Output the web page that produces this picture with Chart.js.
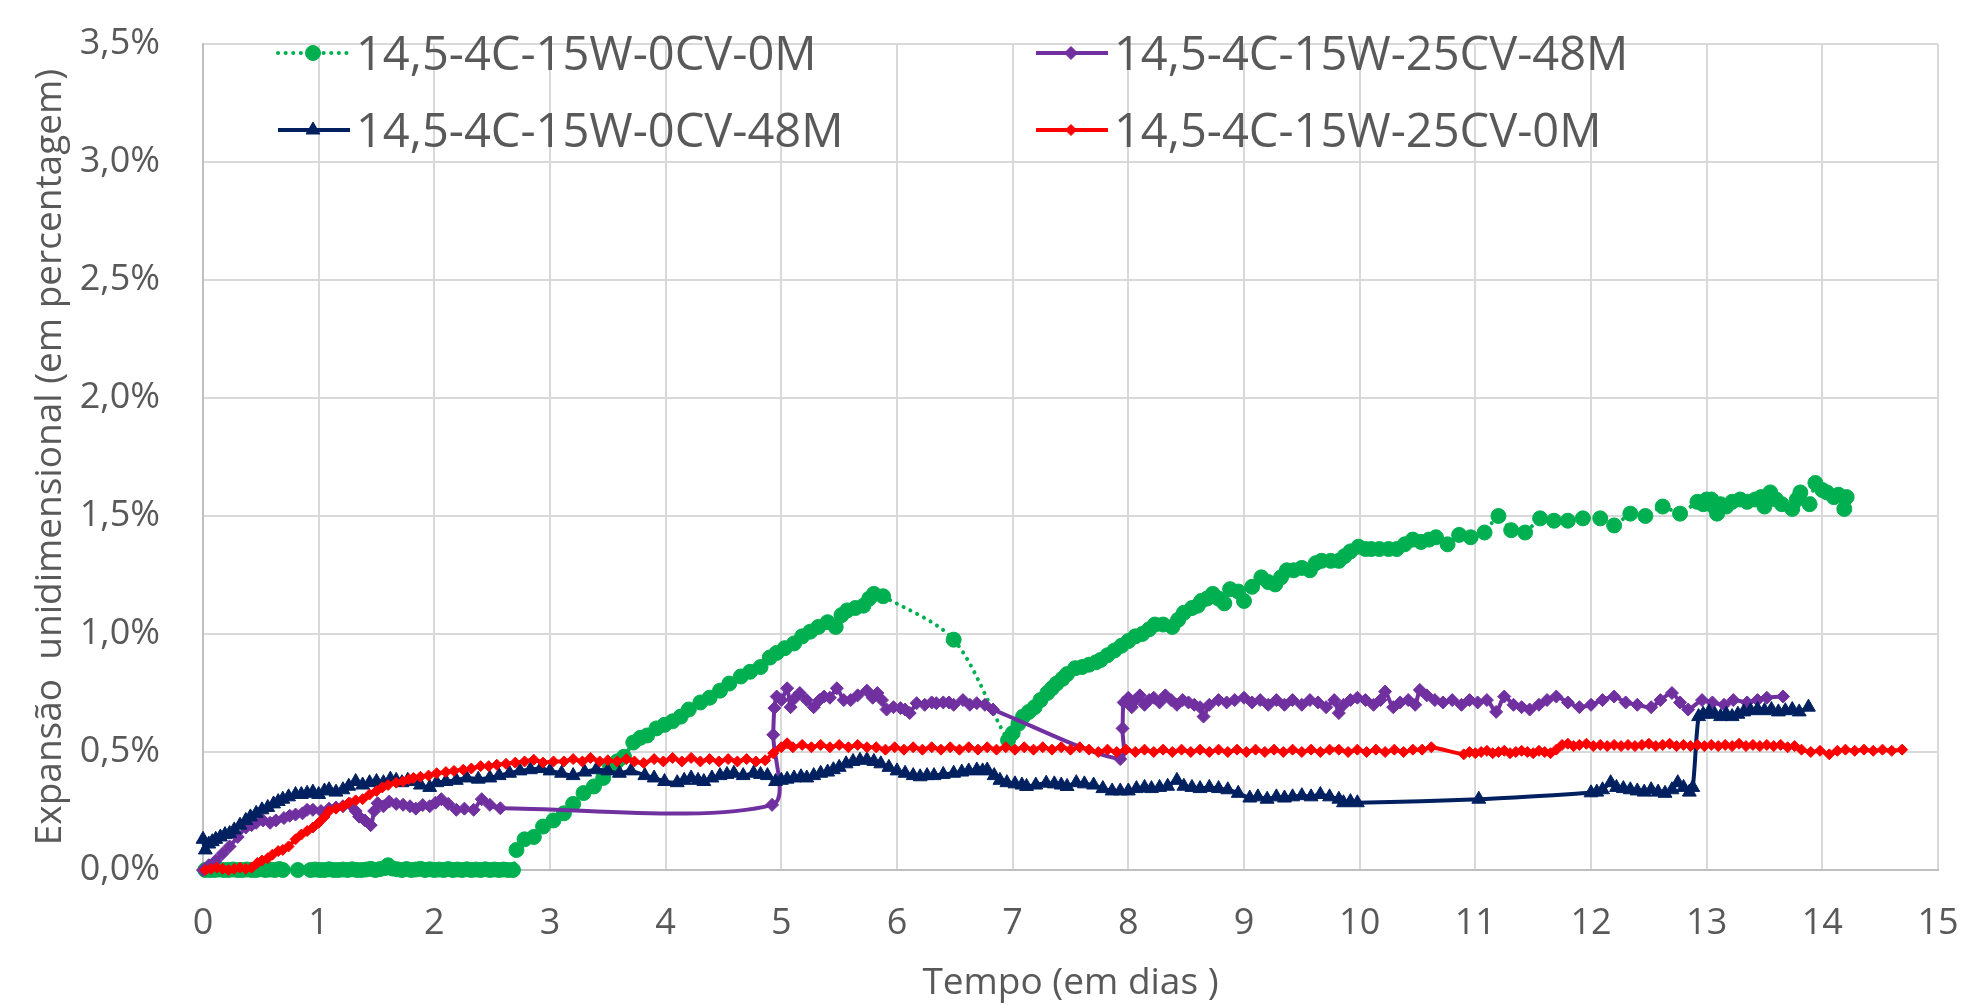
<!DOCTYPE html>
<html>
<head>
<meta charset="utf-8">
<title>Expansão unidimensional</title>
<script src="https://cdn.jsdelivr.net/npm/chart.js@4.4.1/dist/chart.umd.min.js"></script>
<style>
  html, body { margin: 0; padding: 0; background: #fff; }
  #wrap { width: 1963px; height: 1006px; }
</style>
</head>
<body>
<div id="wrap"><canvas id="chart"></canvas></div>
<script>
// series names, as in the legend
const seriesNames = ['14,5-4C-15W-0CV-0M', '14,5-4C-15W-25CV-48M', '14,5-4C-15W-0CV-48M', '14,5-4C-15W-25CV-0M'];

// [tempo em dias, expansão %]
const s0CV0M = [
  [0.02,0],[0.06,0],[0.1,0],[0.14,0.002],[0.18,0],[0.22,0],[0.26,0.002],[0.3,0],[0.34,0],[0.38,0.002],
  [0.42,0],[0.46,0],[0.5,0.003],[0.54,0],[0.58,0.002],[0.62,0],[0.66,0.004],[0.69,0],[0.82,0],
  [0.93,0],[0.97,0.002],[1.01,0],[1.05,0],[1.09,0.003],[1.13,0],[1.17,0],[1.21,0.002],[1.25,0],[1.29,0.003],
  [1.33,0],[1.37,0],[1.41,0.002],[1.45,0.005],[1.49,0],[1.53,0.004],[1.57,0.008],[1.6,0.02],[1.64,0.006],
  [1.68,0.003],[1.72,0],[1.76,0.004],[1.8,0],[1.84,0.002],[1.88,0.005],[1.92,0],[1.96,0.003],[2.0,0],
  [2.04,0.002],[2.08,0],[2.12,0.004],[2.16,0],[2.2,0.002],[2.24,0],[2.28,0.003],[2.32,0],[2.36,0.002],
  [2.4,0],[2.44,0.003],[2.48,0],[2.52,0.002],[2.56,0],[2.6,0.002],[2.64,0],[2.68,0],
  [2.71,0.085],[2.78,0.13],[2.86,0.14],[2.94,0.184],[3.03,0.21],[3.12,0.24],[3.2,0.28],[3.29,0.326],
  [3.38,0.354],[3.46,0.39],[3.52,0.44],[3.58,0.46],[3.64,0.48],[3.72,0.54],[3.78,0.56],[3.84,0.57],
  [3.92,0.6],[3.99,0.615],[4.06,0.63],[4.13,0.65],[4.2,0.68],[4.3,0.71],[4.38,0.73],[4.47,0.76],
  [4.55,0.79],[4.65,0.82],[4.73,0.84],[4.82,0.86],[4.9,0.9],[4.96,0.92],[5.03,0.94],[5.11,0.96],
  [5.18,0.99],[5.25,1.01],[5.32,1.03],[5.4,1.05],[5.47,1.03],[5.52,1.08],[5.57,1.1],[5.64,1.11],
  [5.71,1.12],[5.76,1.15],[5.8,1.17],[5.88,1.16],[6.49,0.976],[6.96,0.55],
  [7.0,0.58],[7.05,0.62],[7.09,0.65],[7.14,0.67],[7.19,0.69],[7.24,0.72],[7.3,0.75],[7.34,0.77],
  [7.38,0.79],[7.43,0.81],[7.47,0.83],[7.54,0.855],[7.6,0.86],[7.66,0.87],[7.72,0.88],[7.76,0.89],
  [7.82,0.91],[7.88,0.93],[7.94,0.95],[8.0,0.97],[8.06,0.99],[8.12,1.0],[8.18,1.02],[8.23,1.04],
  [8.3,1.04],[8.38,1.03],[8.43,1.06],[8.48,1.09],[8.55,1.11],[8.6,1.12],[8.63,1.14],[8.68,1.15],
  [8.73,1.17],[8.78,1.15],[8.83,1.13],[8.88,1.19],[8.95,1.18],[9.0,1.14],[9.07,1.2],[9.15,1.24],
  [9.21,1.22],[9.27,1.21],[9.32,1.24],[9.37,1.27],[9.43,1.27],[9.5,1.28],[9.57,1.27],[9.62,1.3],
  [9.67,1.31],[9.75,1.31],[9.82,1.31],[9.87,1.33],[9.92,1.35],[9.99,1.37],[10.05,1.36],[10.1,1.36],
  [10.17,1.36],[10.25,1.36],[10.32,1.36],[10.39,1.38],[10.46,1.4],[10.53,1.39],[10.6,1.4],[10.66,1.41],
  [10.76,1.38],[10.86,1.42],[10.96,1.41],[11.08,1.43],[11.2,1.5],[11.31,1.44],[11.43,1.43],[11.56,1.49],
  [11.68,1.48],[11.8,1.48],[11.93,1.49],[12.08,1.49],[12.2,1.46],[12.34,1.51],[12.47,1.5],[12.62,1.54],
  [12.77,1.51],[12.92,1.56],[12.97,1.55],[13.0,1.57],[13.04,1.57],[13.06,1.54],[13.09,1.51],[13.12,1.55],
  [13.17,1.54],[13.22,1.56],[13.29,1.57],[13.35,1.56],[13.42,1.57],[13.47,1.58],[13.5,1.54],[13.55,1.6],
  [13.6,1.57],[13.65,1.55],[13.74,1.53],[13.78,1.57],[13.81,1.6],[13.89,1.55],[13.94,1.64],[14.0,1.61],
  [14.04,1.6],[14.1,1.58],[14.14,1.59],[14.19,1.53],[14.21,1.58]
];

const s25CV48M = [
  [0.0,0],[0.05,0.02],[0.11,0.04],[0.17,0.07],[0.23,0.1],[0.3,0.14],[0.37,0.18],[0.42,0.19],[0.46,0.2],
  [0.52,0.21],[0.58,0.2],[0.63,0.21],[0.7,0.22],[0.75,0.23],[0.8,0.235],[0.86,0.24],[0.9,0.255],
  [0.95,0.255],[1.02,0.25],[1.09,0.26],[1.15,0.265],[1.21,0.27],[1.27,0.28],[1.32,0.25],[1.35,0.226],
  [1.4,0.21],[1.45,0.19],[1.48,0.25],[1.51,0.283],[1.56,0.27],[1.61,0.29],[1.67,0.28],[1.73,0.276],
  [1.79,0.27],[1.84,0.26],[1.9,0.275],[1.96,0.27],[2.01,0.285],[2.06,0.3],[2.12,0.28],[2.19,0.255],
  [2.26,0.26],[2.34,0.255],[2.41,0.3],[2.48,0.276],[2.57,0.262],
  [4.92,0.276],[4.93,0.573],[4.94,0.686],[4.96,0.735],[5.0,0.72],[5.05,0.77],[5.08,0.69],[5.12,0.73],
  [5.16,0.75],[5.22,0.72],[5.28,0.69],[5.33,0.72],[5.37,0.735],[5.42,0.73],[5.48,0.77],[5.54,0.72],
  [5.6,0.72],[5.66,0.74],[5.74,0.76],[5.79,0.73],[5.83,0.75],[5.87,0.72],[5.91,0.68],[5.97,0.69],
  [6.03,0.686],[6.07,0.68],[6.11,0.665],[6.17,0.707],[6.24,0.7],[6.3,0.71],[6.34,0.707],[6.4,0.71],
  [6.45,0.71],[6.49,0.7],[6.57,0.72],[6.63,0.7],[6.69,0.707],[6.76,0.7],[6.83,0.68],
  [7.93,0.47],[7.95,0.6],[7.96,0.71],[8.0,0.73],[8.03,0.69],[8.06,0.72],[8.1,0.74],[8.14,0.7],
  [8.18,0.72],[8.22,0.73],[8.27,0.71],[8.32,0.74],[8.37,0.72],[8.42,0.7],[8.47,0.72],[8.52,0.71],
  [8.57,0.7],[8.62,0.69],[8.65,0.65],[8.7,0.7],[8.78,0.72],[8.85,0.71],[8.92,0.72],[9.0,0.73],
  [9.07,0.71],[9.14,0.72],[9.21,0.7],[9.28,0.72],[9.35,0.7],[9.42,0.72],[9.5,0.7],[9.57,0.72],
  [9.64,0.71],[9.71,0.69],[9.78,0.72],[9.82,0.665],[9.86,0.7],[9.92,0.72],[9.98,0.73],[10.05,0.72],
  [10.12,0.7],[10.18,0.72],[10.22,0.756],[10.29,0.69],[10.35,0.71],[10.42,0.72],[10.48,0.7],[10.52,0.763],
  [10.58,0.74],[10.65,0.72],[10.72,0.71],[10.8,0.72],[10.88,0.7],[10.95,0.72],[11.02,0.71],[11.1,0.72],
  [11.18,0.67],[11.25,0.735],[11.33,0.7],[11.4,0.69],[11.47,0.68],[11.55,0.7],[11.62,0.72],[11.7,0.735],
  [11.8,0.71],[11.9,0.69],[12.0,0.7],[12.1,0.72],[12.2,0.735],[12.3,0.71],[12.4,0.7],[12.52,0.69],
  [12.6,0.72],[12.7,0.75],[12.77,0.71],[12.84,0.68],[12.96,0.72],[13.05,0.71],[13.15,0.7],[13.23,0.72],
  [13.35,0.71],[13.44,0.72],[13.52,0.73],[13.66,0.735]
];

const s0CV48M = [
  [0.0,0.13],[0.02,0.085],[0.05,0.11],[0.08,0.12],[0.11,0.13],[0.15,0.14],[0.19,0.15],[0.23,0.155],
  [0.27,0.17],[0.32,0.19],[0.37,0.21],[0.41,0.225],[0.46,0.24],[0.51,0.255],[0.56,0.265],[0.61,0.28],
  [0.65,0.29],[0.69,0.3],[0.74,0.31],[0.8,0.32],[0.85,0.32],[0.9,0.325],[0.95,0.33],[1.0,0.32],
  [1.05,0.335],[1.09,0.34],[1.15,0.33],[1.21,0.34],[1.26,0.355],[1.32,0.375],[1.38,0.36],[1.44,0.37],
  [1.5,0.375],[1.56,0.37],[1.62,0.385],[1.67,0.38],[1.72,0.37],[1.77,0.38],[1.82,0.375],[1.88,0.36],
  [1.96,0.35],[2.02,0.37],[2.1,0.375],[2.19,0.38],[2.28,0.39],[2.38,0.385],[2.48,0.39],[2.56,0.4],
  [2.65,0.41],[2.74,0.42],[2.83,0.425],[2.92,0.43],[3.0,0.42],[3.1,0.41],[3.2,0.4],[3.3,0.415],
  [3.4,0.425],[3.5,0.42],[3.6,0.41],[3.7,0.42],[3.82,0.4],[3.9,0.39],[3.99,0.375],[4.1,0.37],
  [4.16,0.38],[4.22,0.39],[4.28,0.38],[4.33,0.375],[4.4,0.39],[4.47,0.4],[4.53,0.405],[4.59,0.41],
  [4.67,0.4],[4.76,0.41],[4.82,0.405],[4.88,0.4],[4.95,0.375],[5.0,0.38],[5.05,0.385],[5.11,0.39],
  [5.17,0.395],[5.22,0.39],[5.28,0.4],[5.34,0.41],[5.4,0.415],[5.45,0.425],[5.5,0.435],[5.56,0.45],
  [5.62,0.46],[5.68,0.465],[5.74,0.467],[5.8,0.46],[5.86,0.45],[5.93,0.435],[6.0,0.42],[6.07,0.41],
  [6.14,0.4],[6.2,0.395],[6.26,0.4],[6.32,0.4],[6.4,0.405],[6.49,0.41],[6.56,0.415],[6.62,0.42],
  [6.69,0.424],[6.74,0.42],[6.78,0.424],[6.84,0.4],[6.89,0.38],[6.95,0.37],[7.02,0.365],[7.08,0.36],
  [7.12,0.354],[7.2,0.36],[7.29,0.368],[7.36,0.365],[7.42,0.36],[7.47,0.354],[7.55,0.37],[7.62,0.365],
  [7.7,0.36],[7.78,0.345],[7.86,0.335],[7.93,0.335],[8.0,0.335],[8.07,0.345],[8.14,0.35],[8.2,0.345],
  [8.27,0.35],[8.34,0.355],[8.42,0.38],[8.48,0.355],[8.55,0.35],[8.62,0.345],[8.7,0.35],[8.78,0.345],
  [8.86,0.34],[8.95,0.325],[9.05,0.305],[9.12,0.31],[9.2,0.3],[9.28,0.31],[9.35,0.305],[9.42,0.31],
  [9.5,0.315],[9.58,0.31],[9.66,0.32],[9.74,0.31],[9.82,0.3],[9.86,0.285],[9.92,0.29],[9.98,0.285],
  [11.03,0.3],[12.0,0.327],[12.05,0.33],[12.1,0.34],[12.17,0.37],[12.22,0.35],[12.28,0.345],[12.34,0.34],
  [12.4,0.335],[12.46,0.33],[12.52,0.34],[12.58,0.33],[12.64,0.325],[12.7,0.34],[12.75,0.37],[12.8,0.35],
  [12.85,0.33],[12.88,0.35],[12.93,0.65],[12.97,0.66],[13.02,0.67],[13.07,0.66],[13.12,0.65],[13.17,0.66],
  [13.22,0.65],[13.27,0.66],[13.32,0.67],[13.38,0.675],[13.44,0.68],[13.5,0.675],[13.56,0.68],[13.62,0.67],
  [13.68,0.675],[13.74,0.68],[13.8,0.67],[13.88,0.69]
];

const s25CV0M = [
  [0.02,0],[0.07,0.005],[0.12,0.01],[0.17,0.005],[0.22,0],[0.27,0.005],[0.32,0.01],[0.37,0.005],
  [0.42,0.01],[0.47,0.03],[0.51,0.04],[0.56,0.05],[0.6,0.065],[0.65,0.08],[0.69,0.085],[0.74,0.1],
  [0.8,0.13],[0.85,0.15],[0.9,0.165],[0.95,0.18],[1.0,0.2],[1.05,0.225],[1.09,0.25],[1.15,0.26],
  [1.21,0.27],[1.26,0.285],[1.32,0.295],[1.38,0.3],[1.44,0.32],[1.5,0.335],[1.55,0.35],[1.6,0.36],
  [1.67,0.37],[1.73,0.375],[1.78,0.385],[1.82,0.39],[1.88,0.395],[1.95,0.4],[2.02,0.41],[2.1,0.415],
  [2.17,0.42],[2.25,0.425],[2.32,0.43],[2.4,0.44],[2.47,0.44],[2.54,0.446],[2.62,0.45],[2.7,0.455],
  [2.78,0.46],[2.86,0.467],[2.94,0.455],[3.03,0.46],[3.12,0.46],[3.2,0.47],[3.28,0.46],[3.35,0.475],
  [3.43,0.46],[3.5,0.465],[3.58,0.46],[3.66,0.47],[3.73,0.46],[3.81,0.453],[3.9,0.47],[3.98,0.46],
  [4.06,0.475],[4.14,0.46],[4.22,0.475],[4.3,0.46],[4.38,0.47],[4.46,0.46],[4.54,0.47],[4.62,0.46],
  [4.7,0.47],[4.78,0.46],[4.86,0.465],[4.93,0.495],[5.0,0.52],[5.05,0.537],[5.1,0.52],[5.18,0.53],
  [5.26,0.52],[5.34,0.53],[5.42,0.52],[5.5,0.53],[5.58,0.52],[5.66,0.53],[5.74,0.52],[5.82,0.52],
  [5.9,0.51],[5.98,0.52],[6.06,0.51],[6.14,0.52],[6.22,0.51],[6.3,0.52],[6.38,0.51],[6.46,0.52],
  [6.54,0.51],[6.62,0.52],[6.7,0.51],[6.78,0.52],[6.86,0.51],[6.94,0.52],[7.02,0.51],[7.1,0.52],
  [7.18,0.51],[7.26,0.52],[7.34,0.51],[7.42,0.52],[7.5,0.51],[7.58,0.52],[7.66,0.51],[7.74,0.5],
  [7.82,0.51],[7.9,0.5],[7.98,0.51],[8.06,0.5],[8.14,0.51],[8.22,0.5],[8.3,0.51],[8.38,0.5],
  [8.46,0.51],[8.54,0.5],[8.62,0.51],[8.7,0.5],[8.78,0.51],[8.86,0.5],[8.94,0.51],[9.02,0.5],
  [9.1,0.51],[9.18,0.5],[9.26,0.51],[9.34,0.5],[9.42,0.51],[9.5,0.5],[9.58,0.51],[9.66,0.5],
  [9.74,0.51],[9.82,0.51],[9.9,0.5],[9.98,0.51],[10.06,0.5],[10.14,0.51],[10.22,0.5],[10.3,0.51],
  [10.38,0.5],[10.46,0.51],[10.54,0.51],[10.62,0.52],[10.9,0.49],[10.95,0.5],[11.0,0.495],[11.05,0.5],
  [11.1,0.505],[11.15,0.495],[11.2,0.5],[11.25,0.505],[11.3,0.495],[11.35,0.5],[11.4,0.505],[11.45,0.5],
  [11.5,0.495],[11.55,0.505],[11.6,0.5],[11.65,0.495],[11.7,0.51],[11.75,0.53],[11.8,0.535],[11.85,0.525],
  [11.9,0.53],[11.96,0.535],[12.02,0.525],[12.08,0.53],[12.14,0.525],[12.2,0.53],[12.26,0.525],[12.32,0.53],
  [12.38,0.525],[12.44,0.53],[12.5,0.535],[12.56,0.525],[12.62,0.53],[12.68,0.535],[12.74,0.525],[12.8,0.53],
  [12.86,0.525],[12.92,0.53],[12.98,0.525],[13.04,0.53],[13.1,0.525],[13.16,0.53],[13.22,0.525],[13.28,0.535],
  [13.34,0.525],[13.4,0.53],[13.46,0.525],[13.52,0.53],[13.58,0.525],[13.64,0.53],[13.7,0.52],[13.76,0.525],
  [13.82,0.51],[13.9,0.5],[13.98,0.505],[14.06,0.49],[14.13,0.505],[14.2,0.51],[14.28,0.505],[14.36,0.51],
  [14.44,0.505],[14.52,0.51],[14.6,0.505],[14.69,0.51]
];

const yTicks = [0, 0.5, 1, 1.5, 2, 2.5, 3, 3.5];

const textGray = '#595959';
const fontFamily = '"Open Sans", "Liberation Sans", sans-serif';

function toPoints(rows) {
  return rows.map(r => ({ x: r[0], y: r[1] }));
}

function lineSeries(label, rows, color, style, radius, order, dashed) {
  return {
    label,
    data: toPoints(rows),
    showLine: true,
    borderColor: color,
    backgroundColor: color,
    borderWidth: 4,
    borderDash: dashed ? [0.1, 7.5] : [],
    borderCapStyle: dashed ? 'round' : 'butt',
    tension: 0.3,
    pointStyle: style,
    pointRadius: radius,
    pointBackgroundColor: color,
    pointBorderColor: color,
    pointBorderWidth: 1,
    order,
    clip: 12,
  };
}

// legend sits inside the plot, two columns by two rows
const legendSlots = [
  { x: 278, y: 53 },
  { x: 1036, y: 53 },
  { x: 278, y: 130 },
  { x: 1036, y: 130 },
];

const insideLegend = {
  id: 'insideLegend',
  afterDraw(chart) {
    const ctx = chart.ctx;
    ctx.save();
    chart.data.datasets.forEach((ds, i) => {
      const slot = legendSlots[i];
      ctx.strokeStyle = ds.borderColor;
      ctx.lineWidth = ds.borderWidth;
      ctx.lineCap = ds.borderCapStyle;
      ctx.setLineDash(ds.borderDash);
      ctx.beginPath();
      ctx.moveTo(slot.x, slot.y);
      ctx.lineTo(slot.x + 72, slot.y);
      ctx.stroke();
      ctx.setLineDash([]);
      ctx.fillStyle = ds.pointBackgroundColor;
      ctx.strokeStyle = ds.pointBorderColor;
      ctx.lineWidth = 1;
      Chart.helpers.drawPoint(ctx, { pointStyle: ds.pointStyle, radius: ds.pointRadius, borderWidth: 1 }, slot.x + 35, slot.y);
      ctx.fillStyle = textGray;
      ctx.font = '47px ' + fontFamily;
      ctx.textBaseline = 'alphabetic';
      ctx.textAlign = 'left';
      ctx.fillText(ds.label, slot.x + 78, slot.y + 17);
    });
    ctx.restore();
  }
};

new Chart(document.getElementById('chart'), {
  type: 'scatter',
  data: {
    datasets: [
      lineSeries(seriesNames[0], s0CV0M, '#00B050', 'circle', 7.5, 4, true),
      lineSeries(seriesNames[1], s25CV48M, '#7030A0', 'rectRot', 6.5, 3, false),
      lineSeries(seriesNames[2], s0CV48M, '#002060', 'triangle', 8, 2, false),
      lineSeries(seriesNames[3], s25CV0M, '#FF0000', 'rectRot', 5.5, 1, false),
    ]
  },
  plugins: [insideLegend],
  options: {
    responsive: true,
    maintainAspectRatio: false,
    animation: false,
    layout: { padding: { top: 44, right: 25, left: 0, bottom: 0 } },
    plugins: {
      legend: { display: false },
      tooltip: { enabled: false },
    },
    scales: {
      x: {
        type: 'linear',
        min: 0,
        max: 15,
        ticks: { stepSize: 1, padding: 32, color: textGray, font: { family: fontFamily, size: 36 } },
        grid: { color: '#d9d9d9', lineWidth: 2, drawTicks: false },
        border: { color: '#bfbfbf', width: 2 },
        title: {
          display: true,
          text: 'Tempo (em dias )',
          color: textGray,
          font: { family: fontFamily, size: 37 },
          padding: { top: 0, bottom: 0 },
        },
        afterFit(scale) {
          scale.height = 136;
          scale.paddingLeft = 0;
          scale.paddingRight = 0;
        },
      },
      y: {
        min: 0,
        max: 3.5,
        afterBuildTicks(scale) { scale.ticks = yTicks.map(v => ({ value: v })); },
        ticks: {
          padding: 43,
          color: textGray,
          font: { family: fontFamily, size: 36 },
          callback: v => v.toFixed(1).replace('.', ',') + '%',
        },
        grid: { color: '#d9d9d9', lineWidth: 2, drawTicks: false },
        border: { color: '#bfbfbf', width: 2 },
        title: {
          display: true,
          text: 'Expansão  unidimensional (em percentagem)',
          color: textGray,
          font: { family: fontFamily, size: 37 },
          padding: { top: 28, bottom: 0 },
        },
        afterFit(scale) {
          scale.width = 203;
          scale.paddingTop = 0;
          scale.paddingBottom = 0;
        },
      }
    }
  }
});
</script>
</body>
</html>
